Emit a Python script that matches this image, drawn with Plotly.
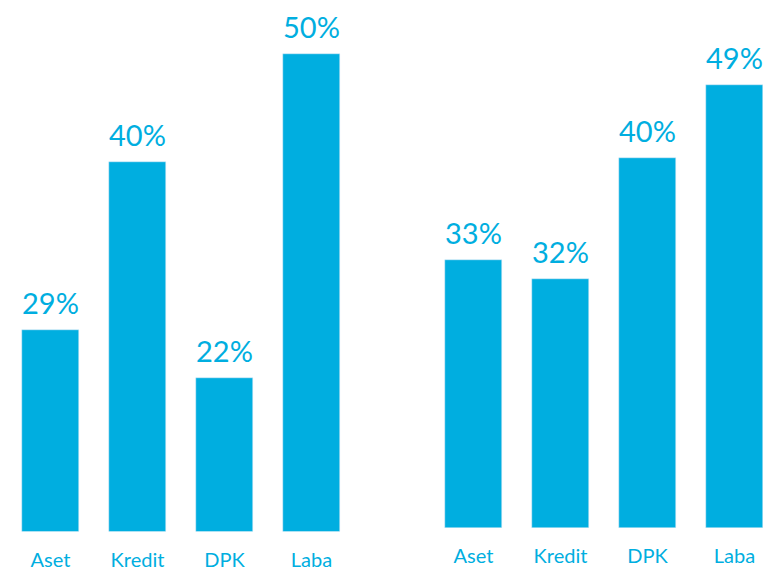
import plotly.graph_objects as go

categories = ["Aset", "Kredit", "DPK", "Laba"]
# Percent labels printed above bars
left_labels = [29, 40, 22, 50]
right_labels = [33, 32, 40, 49]
# Bar heights as drawn (not proportional to the labels in the original)
left_heights = [21.8, 40.1, 16.6, 51.8]
right_heights = [29.0, 27.0, 40.1, 48.0]

COLOR = "#00AEE0"
W, H = 763, 572
PX_PER_UNIT = 9.225

fig = go.Figure()
fig.add_trace(go.Bar(x=categories, y=left_heights, marker_color=COLOR,
                     width=57/87, xaxis="x", yaxis="y", showlegend=False,
                     hoverinfo="skip"))
fig.add_trace(go.Bar(x=categories, y=right_heights, marker_color=COLOR,
                     width=57/87, xaxis="x2", yaxis="y2", showlegend=False,
                     hoverinfo="skip"))

annotations = []
for c, h, v in zip(categories, left_heights, left_labels):
    annotations.append(dict(x=c, y=h, xref="x", yref="y", text=f"{v}%",
                            showarrow=False, yanchor="bottom", yshift=8,
                            font=dict(family="Lato", size=29, color=COLOR)))
for c, h, v in zip(categories, right_heights, right_labels):
    annotations.append(dict(x=c, y=h, xref="x2", yref="y2", text=f"{v}%",
                            showarrow=False, yanchor="bottom", yshift=8,
                            font=dict(family="Lato", size=29, color=COLOR)))

left_bottom = 531.5
right_bottom = 528.0

axis_common = dict(showgrid=False, zeroline=False, showline=False,
                   tickfont=dict(family="Lato", size=20, color=COLOR),
                   ticks="", ticklabelstandoff=14, fixedrange=True)

fig.update_layout(
    width=W, height=H,
    margin=dict(l=0, r=0, t=0, b=0),
    paper_bgcolor="white", plot_bgcolor="white",
    xaxis=dict(domain=[7/W, 355/W], range=[-0.5, 3.5], anchor="y", **axis_common),
    xaxis2=dict(domain=[430/W, 1.0], range=[-0.5, 3.5 - 15/87], anchor="y2", **axis_common),
    yaxis=dict(domain=[(H-left_bottom)/H, 1.0], range=[0, left_bottom/PX_PER_UNIT],
               showgrid=False, zeroline=False, showticklabels=False, anchor="x"),
    yaxis2=dict(domain=[(H-right_bottom)/H, 1.0], range=[0, right_bottom/PX_PER_UNIT],
                showgrid=False, zeroline=False, showticklabels=False, anchor="x2"),
    annotations=annotations,
    bargap=0,
)

fig.write_html("out.html", config={"displayModeBar": False},
               post_script="document.body.style.margin='0';document.body.style.overflow='hidden';")
